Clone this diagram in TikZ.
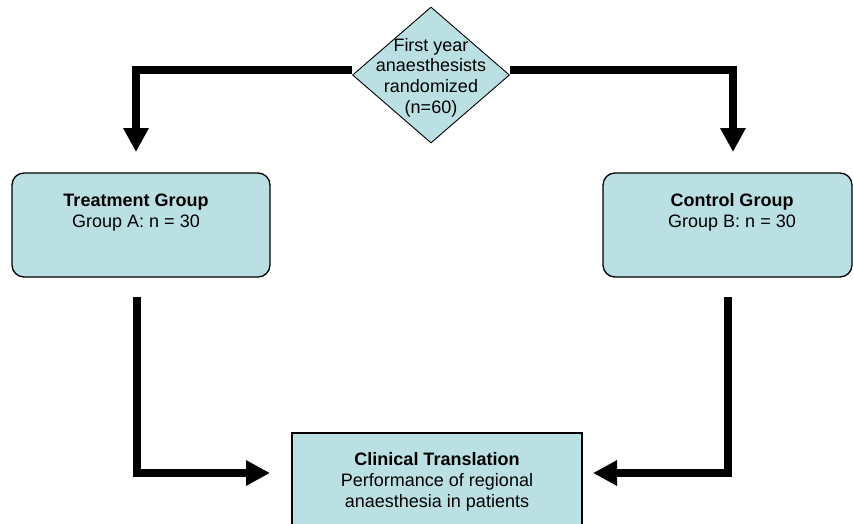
\documentclass[tikz,border=0pt]{standalone}
\usepackage{fontspec}
\setmainfont{Liberation Sans}
\usetikzlibrary{shapes.geometric,arrows.meta}
\definecolor{boxfill}{RGB}{187,224,227}
\pgfdeclarelayer{background}
\pgfsetlayers{background,main}
\begin{document}
\begin{tikzpicture}[x=1pt,y=-1pt,
  arrowline/.style={line width=8pt, -{Triangle[width=24pt,length=24pt]}, line join=miter},
  txt/.style={align=center, font=\fontsize{18}{20.7}\selectfont, inner sep=0pt},
  groupbox/.style={draw=black, line width=1.3pt, fill=boxfill, rounded corners=12pt, inner sep=0pt},
  outbox/.style={draw=black, line width=1.3pt, fill=boxfill, inner sep=0pt},
  decision/.style={diamond, draw=black, line width=0.9pt, fill=boxfill, inner sep=0pt}]
\useasboundingbox (0,0) rectangle (853,523);
\clip (0,0) rectangle (853,523);

% boxes
\node[groupbox, minimum width=258pt, minimum height=104pt] (treat) at (141,225) {};
\node[groupbox, minimum width=249pt, minimum height=104pt] (ctrl) at (727.5,225) {};
\node[outbox, minimum width=290pt, minimum height=107pt] (clin) at (437,486.5) {};
\node[decision, minimum width=157pt, minimum height=136pt] (rand) at (431,75) {};

% coordinates
\coordinate (t1) at (136,152);
\coordinate (t2) at (733,152);
\coordinate (s1) at (137,297);
\coordinate (b1) at (270,473);
\coordinate (s2) at (728,297);
\coordinate (b2) at (593,473);

% connectors
\begin{pgfonlayer}{background}
\draw[arrowline] ([yshift=5pt]rand.west) -| (t1);
\draw[arrowline] ([yshift=5pt]rand.east) -| (t2);
\end{pgfonlayer}
\draw[arrowline] (s1) |- (b1);
\draw[arrowline] (s2) |- (b2);

% texts
\node[txt] (randtext) at (431,77.5) {First year\\anaesthesists\\randomized\\(n=60)};
\node[txt] (treattext) at (136,212.5) {\textbf{Treatment Group}\\Group A: n = 30};
\node[txt] (ctrltext) at (732,212.5) {\textbf{Control Group}\\Group B: n = 30};
\node[txt] (clintext) at (437,482) {\textbf{Clinical Translation}\\Performance of regional\\anaesthesia in patients};
\end{tikzpicture}
\end{document}
